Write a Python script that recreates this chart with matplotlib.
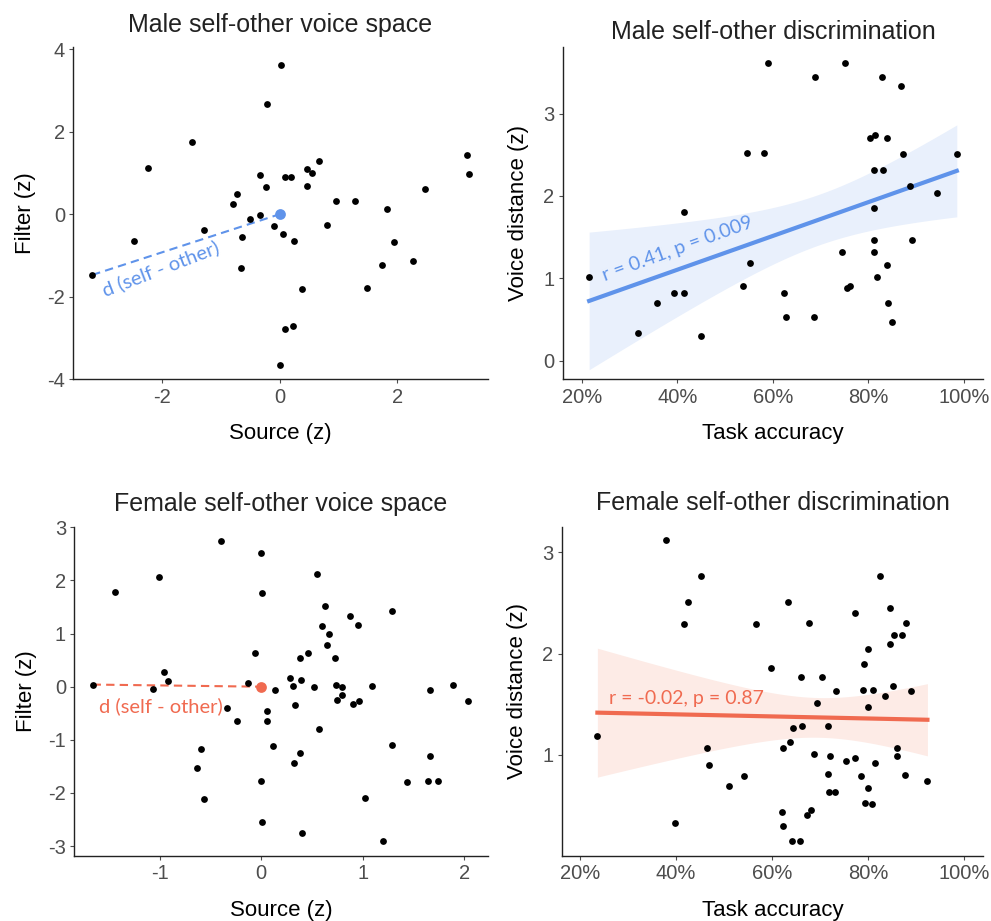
import numpy as np
import matplotlib.pyplot as plt

# ---- data ----
male_source = [0.02, -0.21, -1.49, -2.24, 3.18, 3.22, 0.67, 0.47, 0.55, 0.10,
               0.19, 0.47, -0.33, -0.23, -0.73, -0.79, -0.33, -0.51, -0.10, 0.06,
               0.24, -0.63, -1.28, -2.47, -3.18, -0.65, 0.96, 1.28, 0.80, 1.83,
               1.95, 1.73, 2.26, 2.46, 1.48, 0.38, 0.10, 0.23, 0.00]
male_filter = [3.61, 2.68, 1.76, 1.12, 1.43, 0.97, 1.29, 1.10, 1.01, 0.89,
               0.89, 0.68, 0.94, 0.65, 0.48, 0.25, -0.01, -0.11, -0.28, -0.48,
               -0.64, -0.54, -0.37, -0.64, -1.47, -1.29, 0.33, 0.33, -0.25, 0.13,
               -0.68, -1.23, -1.14, 0.62, -1.79, -1.81, -2.78, -2.71, -3.65]
male_other = (-3.18, -1.47)

male_acc = [0.589, 0.751, 0.687, 0.829, 0.869, 0.804, 0.814, 0.838, 0.545, 0.582,
            0.872, 0.985, 0.811, 0.831, 0.888, 0.944, 0.811, 0.413, 0.811, 0.891,
            0.811, 0.745, 0.551, 0.838, 0.215, 0.817, 0.537, 0.756, 0.761, 0.393,
            0.413, 0.624, 0.358, 0.841, 0.627, 0.685, 0.849, 0.318, 0.450]
male_dist = [3.62, 3.62, 3.45, 3.45, 3.33, 2.70, 2.74, 2.70, 2.52, 2.52,
             2.51, 2.51, 2.31, 2.31, 2.12, 2.04, 1.85, 1.81, 1.46, 1.46,
             1.32, 1.32, 1.19, 1.16, 1.02, 1.01, 0.91, 0.88, 0.90, 0.82,
             0.82, 0.82, 0.70, 0.70, 0.53, 0.53, 0.47, 0.34, 0.30]

female_source = [-0.40, 0.00, -1.01, 0.55, -1.44, 0.01, 0.63, 1.29, 0.88, 0.60,
                 0.95, 0.67, 0.65, -0.06, 0.46, 0.38, 0.73, -0.96, -0.92, 0.28,
                 0.39, -0.13, -1.66, -1.07, 0.31, 0.52, 0.74, 0.80, 1.09, 1.89,
                 0.14, 0.80, 0.75, 0.90, 0.96, 1.66, 2.04, -0.34, 0.33, 0.06,
                 0.06, -0.24, 0.57, 0.12, 1.29, -0.59, 0.38, 0.32, 1.66, -0.63,
                 0.00, 1.44, 1.64, 1.74, -0.56, 1.02, 0.01, 0.40, 1.20]
female_filter = [2.75, 2.52, 2.07, 2.12, 1.78, 1.76, 1.51, 1.42, 1.33, 1.15,
                 1.17, 0.99, 0.78, 0.63, 0.63, 0.54, 0.54, 0.27, 0.11, 0.16,
                 0.13, 0.07, 0.04, -0.04, 0.02, -0.01, 0.04, -0.01, 0.02, 0.04,
                 -0.06, -0.16, -0.25, -0.32, -0.27, -0.06, -0.27, -0.41, -0.34, -0.45,
                 -0.65, -0.65, -0.79, -1.12, -1.10, -1.17, -1.24, -1.44, -1.31, -1.53,
                 -1.78, -1.80, -1.78, -1.78, -2.12, -2.10, -2.55, -2.75, -2.91]
female_other = (-1.66, 0.04)

female_acc = [0.380, 0.452, 0.826, 0.425, 0.633, 0.847, 0.774, 0.417, 0.566, 0.678,
              0.879, 0.854, 0.870, 0.847, 0.801, 0.791, 0.598, 0.661, 0.705, 0.852,
              0.789, 0.811, 0.733, 0.889, 0.836, 0.693, 0.801, 0.236, 0.663, 0.716,
              0.643, 0.638, 0.465, 0.623, 0.861, 0.688, 0.721, 0.861, 0.754, 0.774,
              0.468, 0.814, 0.716, 0.786, 0.877, 0.542, 0.924, 0.510, 0.801, 0.718,
              0.731, 0.794, 0.809, 0.621, 0.681, 0.673, 0.397, 0.623, 0.641, 0.659]
female_dist = [3.12, 2.76, 2.76, 2.51, 2.51, 2.45, 2.40, 2.29, 2.29, 2.30,
               2.30, 2.18, 2.18, 2.09, 2.04, 1.90, 1.86, 1.77, 1.77, 1.68,
               1.64, 1.64, 1.63, 1.63, 1.58, 1.51, 1.47, 1.19, 1.29, 1.29,
               1.27, 1.13, 1.07, 1.07, 1.07, 1.01, 0.99, 0.99, 0.94, 0.97,
               0.90, 0.92, 0.81, 0.79, 0.80, 0.79, 0.74, 0.69, 0.67, 0.63,
               0.63, 0.53, 0.52, 0.44, 0.46, 0.41, 0.33, 0.30, 0.15, 0.15]

male_label = "r = 0.41, p = 0.009"
female_label = "r = -0.02, p = 0.87"

BLUE = "#5F93EA"
RED = "#F06A50"
GREY = "#4D4D4D"
ANNOT_FONT = ["Lato", "DejaVu Sans"]

plt.rcParams["font.family"] = ["Liberation Sans", "DejaVu Sans"]
plt.rcParams["axes.unicode_minus"] = False


def style_axes(ax):
    for side in ("top", "right"):
        ax.spines[side].set_visible(False)
    for side in ("left", "bottom"):
        ax.spines[side].set_color("#222222")
        ax.spines[side].set_linewidth(1.0)
    ax.tick_params(axis="both", colors=GREY, labelsize=14.5, length=3, width=0.8,
                   labelcolor=GREY, pad=3)


def lm_band(x, y, t_crit, n_grid=80):
    x = np.asarray(x)
    y = np.asarray(y)
    slope, icpt = np.polyfit(x, y, 1)
    n = len(x)
    resid = y - (slope * x + icpt)
    s = np.sqrt(np.sum(resid ** 2) / (n - 2))
    xs = np.linspace(x.min(), x.max(), n_grid)
    se = s * np.sqrt(1 / n + (xs - x.mean()) ** 2 / np.sum((x - x.mean()) ** 2))
    fit = slope * xs + icpt
    return xs, fit, fit - t_crit * se, fit + t_crit * se


def voice_space(ax, sx, fy, other, color, title, title_pad, ylim, xlim, yticks,
                xticks, text_kw):
    ax.scatter(sx, fy, s=24, color="black", zorder=3, linewidths=0)
    ax.plot([other[0], 0], [other[1], 0], ls=(0, (4, 2.5)), color=color, lw=1.5, zorder=2)
    ax.scatter([0], [0], s=60, color=color, zorder=4, linewidths=0)
    ax.text(s="d (self - other)", color=color, fontsize=14.5, family=ANNOT_FONT, **text_kw)
    ax.set_xlim(*xlim)
    ax.set_ylim(*ylim)
    ax.set_xticks(xticks)
    ax.set_yticks(yticks)
    ax.set_xlabel("Source (z)", fontsize=16, labelpad=12)
    ax.set_ylabel("Filter (z)", fontsize=16, labelpad=8)
    ax.set_title(title, fontsize=18, color="#222222", pad=title_pad)
    style_axes(ax)


def discrimination(ax, acc, dist, color, band_color, label, t_crit, title, title_pad,
                   xlim, ylim, yticks, text_kw):
    xs, fit, lo, hi = lm_band(acc, dist, t_crit)
    ax.fill_between(xs, lo, hi, color=band_color, lw=0, zorder=1)
    ax.plot(xs, fit, color=color, lw=3, zorder=2)
    ax.scatter(acc, dist, s=24, color="black", zorder=3, linewidths=0)
    ax.text(s=label, color=color, fontsize=14, family=ANNOT_FONT, zorder=4, **text_kw)
    ax.set_xlim(*xlim)
    ax.set_ylim(*ylim)
    ax.set_xticks([0.2, 0.4, 0.6, 0.8, 1.0])
    ax.set_xticklabels(["20%", "40%", "60%", "80%", "100%"])
    ax.set_yticks(yticks)
    ax.set_xlabel("Task accuracy", fontsize=16, labelpad=12)
    ax.set_ylabel("Voice distance (z)", fontsize=16, labelpad=10)
    ax.set_title(title, fontsize=18, color="#222222", pad=title_pad)
    style_axes(ax)


fig = plt.figure(figsize=(9.91, 9.21), dpi=100)
ax1 = fig.add_axes([0.074, 0.588, 0.418, 0.361])
ax2 = fig.add_axes([0.568, 0.588, 0.424, 0.361])
ax3 = fig.add_axes([0.075, 0.071, 0.417, 0.357])
ax4 = fig.add_axes([0.567, 0.071, 0.425, 0.357])

voice_space(ax1, male_source, male_filter, male_other, BLUE,
            "Male self-other voice space", 11, (-4.0, 4.05), (-3.5, 3.53),
            [-4, -2, 0, 2, 4], [-2, 0, 2],
            dict(x=-2.95, y=-2.05, rotation=21, ha="left", va="bottom",
                 rotation_mode="anchor"))
discrimination(ax2, male_acc, male_dist, BLUE, "#E9F0FC", male_label, 2.026,
               "Male self-other discrimination", 6, (0.16, 1.04), (-0.23, 3.81),
               [0, 1, 2, 3],
               dict(x=0.25, y=0.93, rotation=20, ha="left", va="bottom",
                    rotation_mode="anchor"))
voice_space(ax3, female_source, female_filter, female_other, RED,
            "Female self-other voice space", 11.5, (-3.18, 3.01), (-1.84, 2.23),
            [-3, -2, -1, 0, 1, 2, 3], [-1, 0, 1, 2],
            dict(x=-1.6, y=-0.36, ha="left", va="center"))
discrimination(ax4, female_acc, female_dist, RED, "#FDEBE6", female_label, 2.001,
               "Female self-other discrimination", 12, (0.162, 1.04), (0.007, 3.25),
               [1, 2, 3],
               dict(x=0.26, y=1.56, ha="left", va="center"))

fig.savefig("out.png", dpi=100)
